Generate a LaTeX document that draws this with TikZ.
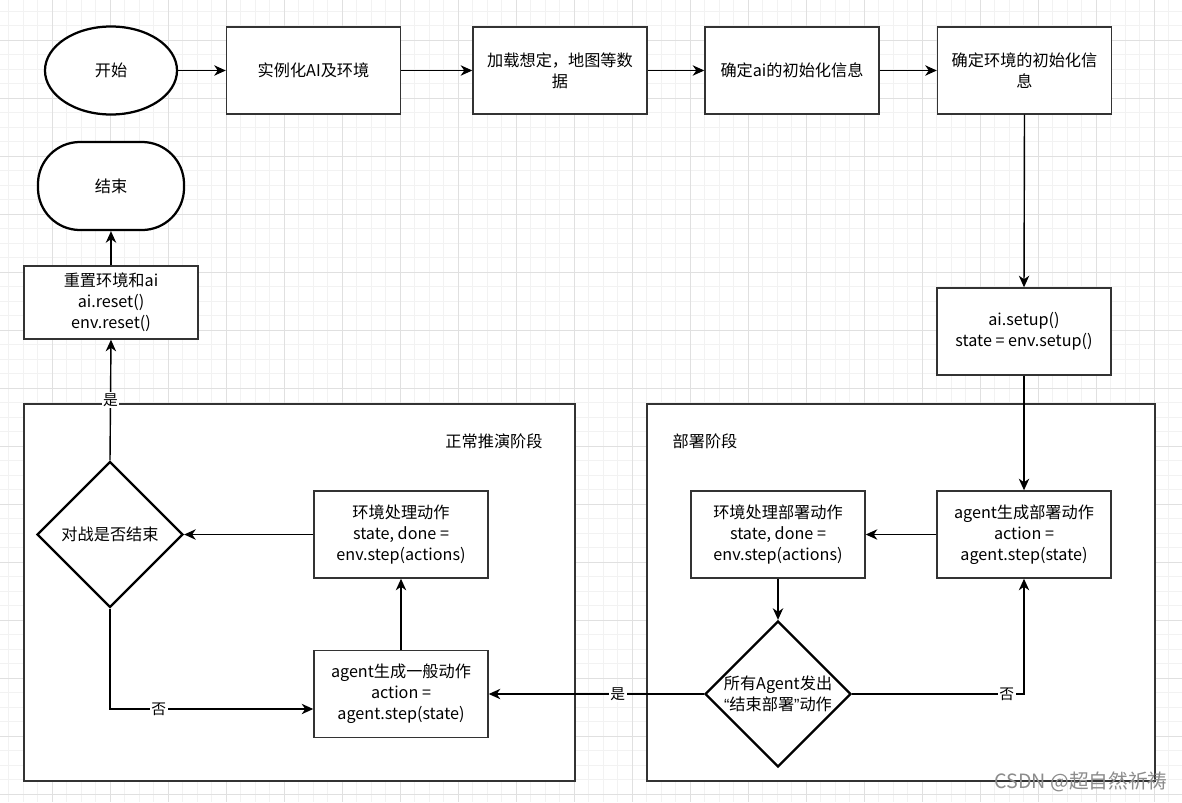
\documentclass[tikz,border=0pt]{standalone}
\usepackage{fontspec}
\setmainfont{Noto Sans CJK SC}
\newfontfamily\quotefont{Liberation Sans}
\usepackage{xcolor}
\usepackage{tikz}
\usetikzlibrary{shapes,arrows.meta,positioning,calc}
\definecolor{boxline}{HTML}{333333}

\begin{document}
\begin{tikzpicture}[
    x=0.025cm, y=-0.025cm,
    font=\fontsize{11.5}{15}\selectfont,
    stepbox/.style={rectangle, draw=boxline, line width=1pt, fill=white, minimum width=4.35cm, minimum height=2.175cm, align=center, inner sep=2pt},
    terminal/.style={draw=black, line width=1.6pt, fill=white, minimum height=2.2cm},
    decision/.style={diamond, draw=black, line width=1.6pt, fill=white, minimum width=3.65cm, minimum height=3.65cm, inner sep=0pt, align=center},
    phase/.style={rectangle, draw=boxline, line width=1.1pt, fill=white, minimum height=9.425cm},
    flow/.style={->, >={Stealth[length=2.9mm,width=2.6mm,inset=0.9mm]}, line width=1pt},
    cond/.style={fill=white, inner sep=1pt, font=\fontsize{10.5}{12}\selectfont},
    gridminor/.style={draw=black!5, line width=0.5pt},
    gridmajor/.style={draw=black!12, line width=0.6pt}
]
    \useasboundingbox (0,0) rectangle (1182,802);

    % Background grid
    \fill[white] (0,0) rectangle (1182,802);
    \foreach \k in {0,...,81} \draw[gridminor] ({8.8+14.5*\k},0) -- ({8.8+14.5*\k},802);
    \foreach \k in {0,...,55} \draw[gridminor] (0,{11+14.5*\k}) -- (1182,{11+14.5*\k});
    \foreach \k in {0,...,20} \draw[gridmajor] ({-5.7+58*\k},0) -- ({-5.7+58*\k},802);
    \foreach \k in {0,...,13} \draw[gridmajor] (0,{40+58*\k}) -- (1182,{40+58*\k});

    % Phases
    \node[phase, minimum width=13.775cm] (normal) at (299.5,592.5) {};
    \node[phase, minimum width=12.7cm] (deploy) at (901,592.5) {};
    \node (normallabel) at (494,441) {正常推演阶段};
    \node (deploylabel) at (705,441) {部署阶段};

    % Setup chain
    \node[terminal, ellipse, minimum width=3.3cm] (start) at (111,70.5) {开始};
    \node[stepbox] (inst) at (313.5,70.5) {实例化AI及环境};
    \node[stepbox] (load) at (560,70.5) {加载想定，地图等数\\据};
    \node[stepbox] (aiinit) at (792,70.5) {确定ai的初始化信息};
    \node[stepbox] (envinit) at (1024.5,70.5) {确定环境的初始化信\\息};
    \node[stepbox] (setup) at (1024,331.5) {ai.setup()\\state = env.setup()};

    % Deploy phase
    \node[stepbox] (adep) at (1024,534.5) {agent生成部署动作\\action =\\agent.step(state)};
    \node[stepbox] (edep) at (778,534.5) {环境处理部署动作\\state, done =\\env.step(actions)};
    \node[decision, inner sep=-10pt] (d2) at (778,694) {所有Agent发出\\{\quotefont“}结束部署{\quotefont”}动作};

    % Normal phase
    \node[stepbox] (agen) at (401,694) {agent生成一般动作\\action =\\agent.step(state)};
    \node[stepbox] (eproc) at (401,534.5) {环境处理动作\\state, done =\\env.step(actions)};
    \node[decision] (d1) at (110,534.5) {对战是否结束};

    % End
    \node[stepbox, minimum height=1.825cm] (reset) at (111,302.5) {重置环境和ai\\ai.reset()\\env.reset()};
    \node[terminal, rectangle, rounded corners=1.05cm, minimum width=3.65cm] (stop) at (111,186) {结束};

    % Flow
    \draw[flow] (start) -- (inst);
    \draw[flow] (inst) -- (load);
    \draw[flow] (load) -- (aiinit);
    \draw[flow] (aiinit) -- (envinit);
    \draw[flow] (envinit.south) -- (setup.north);
    \draw[flow] (setup.south) -- (adep.north);
    \draw[flow] (adep.west) -- (edep.east);
    \draw[flow] (edep.south) -- (d2.north);
    \draw[flow] (d2.east) -| node[cond, pos=0.45] {否} (adep.south);
    \draw[flow] (d2.west) -- node[cond, pos=0.4] {是} (agen.east);
    \draw[flow] (agen.north) -- (eproc.south);
    \draw[flow] (eproc.west) -- (d1.east);
    \draw[flow] (d1.south) |- node[cond, pos=0.62] {否} ($(agen.west)+(0,15)$);
    \draw[flow] (d1.north) -- node[cond, pos=0.5] {是} (reset.south);
    \draw[flow] (reset.north) -- (stop.south);

    % Watermark
    \node[text=black!45, font=\fontsize{14}{15}\selectfont] (mark) at (1081,782) {CSDN @超自然祈祷};
\end{tikzpicture}
\end{document}
